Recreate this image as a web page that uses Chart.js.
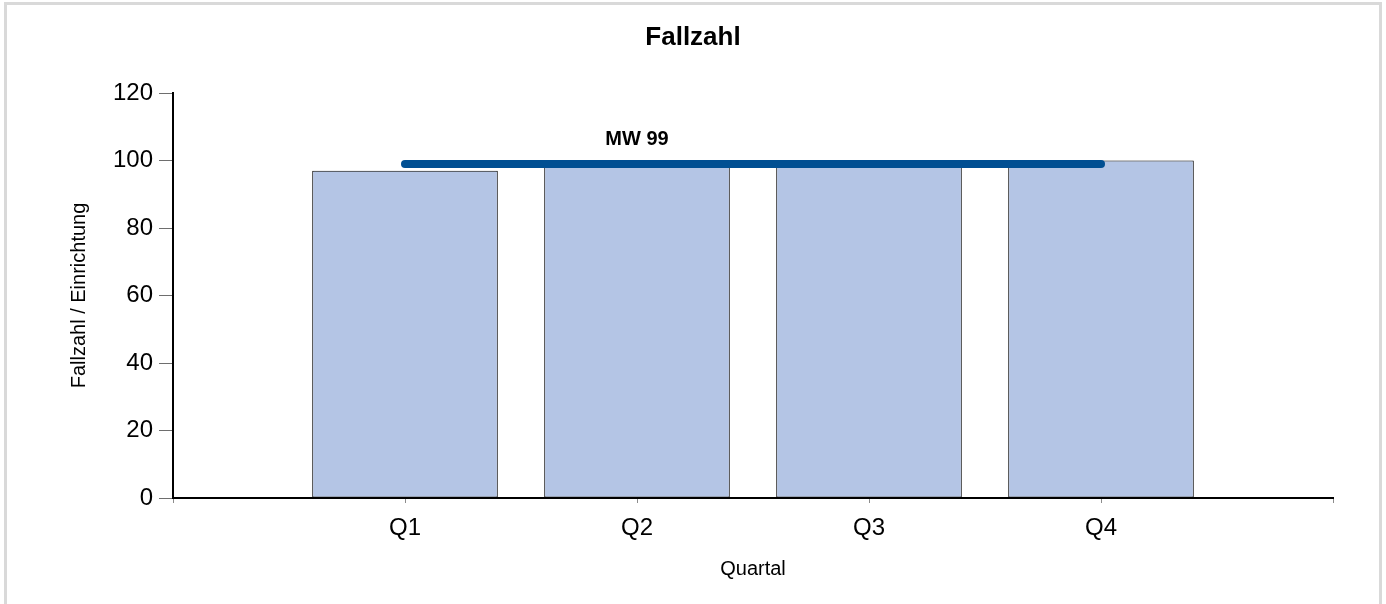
<!DOCTYPE html>
<html>
<head>
<meta charset="utf-8">
<script src="https://cdn.jsdelivr.net/npm/chart.js@4/dist/chart.umd.min.js"></script>
<style>
  html, body { margin: 0; padding: 0; background: #ffffff; overflow: hidden; width: 1386px; height: 604px; }
  #frame { position: absolute; left: 4px; top: 2px; width: 1378px; height: 700px; box-sizing: border-box; border: 3px solid #d9d9d9; }
  #c { position: absolute; left: 0; top: 0; }
</style>
</head>
<body>
<div id="frame"></div>
<canvas id="c" width="1386" height="604"></canvas>
<script>
// Data
const categories = ['', 'Q1', 'Q2', 'Q3', 'Q4', ''];
const fallzahl = [null, 97, 99, 100, 100, null];
const meanLine = [null, 99, 99, 99, 99, null];
const meanLabel = 'MW 99';
const chartTitle = 'Fallzahl';
const yTicks = [0, 20, 40, 60, 80, 100, 120];

const FONT = "'Liberation Sans', Arial, sans-serif";

const textPlugin = {
  id: 'textPlugin',
  afterDraw(chart) {
    const ctx = chart.ctx;
    ctx.save();
    // chart title, centred on the whole canvas
    ctx.font = 'bold 26px ' + FONT;
    ctx.fillStyle = '#000000';
    ctx.textAlign = 'center';
    ctx.textBaseline = 'middle';
    ctx.fillText(chartTitle, chart.width / 2, 38);
    // mean label
    const x = chart.scales.x.getPixelForValue(2);
    const y = chart.scales.y.getPixelForValue(meanLine[2]) - 24;
    ctx.font = 'bold 20px ' + FONT;
    ctx.fillText(meanLabel, x, y);
    ctx.restore();
  }
};

new Chart(document.getElementById('c'), {
  type: 'bar',
  data: {
    labels: categories,
    datasets: [
      {
        type: 'line',
        label: 'Mittelwert',
        data: meanLine,
        borderColor: '#014f92',
        borderWidth: 8,
        borderCapStyle: 'round',
        pointRadius: 0,
        fill: false,
        order: 0
      },
      {
        type: 'bar',
        label: 'Fallzahl',
        data: fallzahl,
        backgroundColor: '#b4c5e5',
        borderColor: '#000000',
        borderWidth: 1,
        borderSkipped: false,
        categoryPercentage: 1.0,
        barPercentage: 0.8,
        order: 1
      }
    ]
  },
  options: {
    responsive: false,
    animation: false,
    devicePixelRatio: 1,
    layout: { padding: { left: 0, right: 53, top: 93, bottom: 0 } },
    plugins: {
      legend: { display: false },
      tooltip: { enabled: false },
      title: { display: false }
    },
    scales: {
      x: {
        offset: false,
        grid: { offset: false, drawOnChartArea: false, drawTicks: true, tickLength: 5, tickColor: '#8c8c8c', tickWidth: 1 },
        border: { display: true, color: '#000000', width: 2 },
        ticks: { color: '#000000', font: { family: FONT, size: 24, lineHeight: 1.2 }, padding: 11, maxRotation: 0, autoSkip: false },
        title: { display: true, text: 'Quartal', color: '#000000', font: { family: FONT, size: 20, lineHeight: 1.2 }, padding: { top: 0, bottom: 23 } },
        afterFit(scale) { scale.height = 106; }
      },
      y: {
        min: 0,
        max: 120,
        afterBuildTicks(scale) { scale.ticks = yTicks.map(v => ({ value: v })); },
        grid: { drawOnChartArea: false, drawTicks: true, tickLength: 14, tickColor: '#6e6e6e', tickWidth: 1 },
        border: { display: true, color: '#000000', width: 2 },
        ticks: { color: '#000000', font: { family: FONT, size: 24, lineHeight: 1.2 }, padding: 6 },
        title: { display: true, text: 'Fallzahl / Einrichtung', color: '#000000', font: { family: FONT, size: 20, lineHeight: 1.2 }, padding: { top: 67, bottom: 0 } },
        afterFit(scale) { scale.width = 173; }
      }
    }
  },
  plugins: [textPlugin]
});
</script>
</body>
</html>
